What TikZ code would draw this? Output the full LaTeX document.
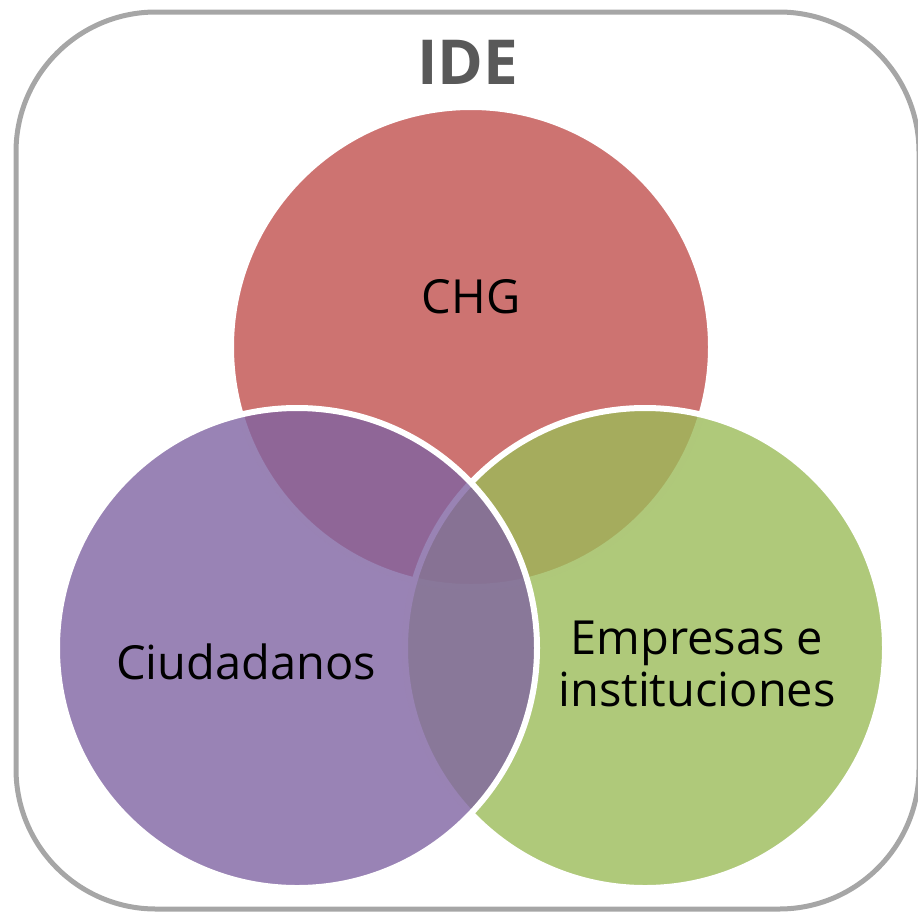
\documentclass[tikz,border=0pt]{standalone}
\usepackage{fontspec}
\setmainfont{Open Sans}
\usepackage{tikz}
\usetikzlibrary{positioning}
\definecolor{colorFrame}{HTML}{A6A6A6}
\definecolor{colorTitle}{HTML}{595959}
\definecolor{colorCHG}{HTML}{C0504D}
\definecolor{colorCiud}{HTML}{8064A2}
\definecolor{colorEmp}{HTML}{9BBB59}

\begin{document}
\begin{tikzpicture}[x=1pt, y=-1pt,
  venn/.style={circle, inner sep=0pt, minimum size=480pt, draw=white, line width=6pt, fill opacity=0.8},
  lbl/.style={align=center, font=\fontsize{47}{52}\selectfont, text=black}]
\clip (0,0) rectangle (918,911);
\useasboundingbox (0,0) rectangle (918,911);
\draw[colorFrame, line width=5pt, rounded corners=140pt] (16,12) rectangle (919,909);
\node[font=\fontsize{62}{70}\selectfont\bfseries, text=colorTitle] (ide) at (468,62) {IDE};
% circles
\node[venn, fill=colorCHG] (chg) at (471,347) {};
\node[venn, fill=colorEmp] (emp) at (645,648) {};
\node[venn, fill=colorCiud] (ciud) at (297,648) {};
% labels
\node[lbl] (tchg) at (471,297) {CHG};
\node[lbl] (tciud) at (246,662) {Ciudadanos};
\node[lbl] (temp) at (697,664) {Empresas e\\instituciones};
\end{tikzpicture}
\end{document}
